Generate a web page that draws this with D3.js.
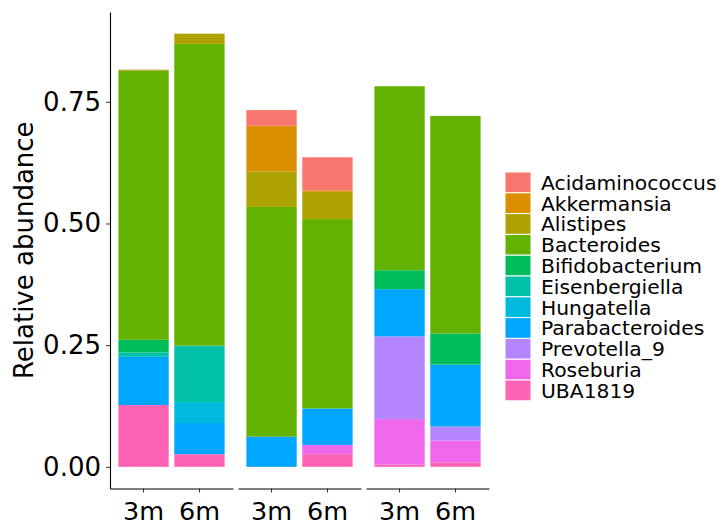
<!DOCTYPE html>
<html>
<head>
<meta charset="utf-8">
<script src="https://cdn.jsdelivr.net/npm/d3@7"></script>
<style>
  body { margin: 0; background: #fff; }
  text { font-family: "DejaVu Sans", sans-serif; }
</style>
</head>
<body>
<div id="chart"></div>
<script>
// panels (no strip labels shown) and time points
const panels = ['P1', 'P2', 'P3'];
const times = ['3m', '6m'];
const genera = ['Acidaminococcus', 'Akkermansia', 'Alistipes', 'Bacteroides', 'Bifidobacterium',
  'Eisenbergiella', 'Hungatella', 'Parabacteroides', 'Prevotella_9', 'Roseburia', 'UBA1819'];
const colors = ['#F8766D', '#DB8E00', '#AEA200', '#64B200', '#00BD5C',
  '#00C1A7', '#00BADE', '#00A6FF', '#B385FF', '#EF67EB', '#FF63B6'];
const yTicks = [0, 0.25, 0.5, 0.75];

// relative abundance per bar: P1-3m, P1-6m, P2-3m, P2-6m, P3-3m, P3-6m
const acidaminococcus = [0, 0, 0.032, 0.068, 0, 0];
const akkermansia     = [0, 0, 0.094, 0.003, 0, 0];
const alistipes       = [0.002, 0.021, 0.073, 0.056, 0, 0];
const bacteroides     = [0.553, 0.620, 0.472, 0.389, 0.378, 0.447];
const bifidobacterium = [0.026, 0, 0, 0, 0.039, 0.064];
const eisenbergiella  = [0.009, 0.116, 0, 0, 0, 0];
const hungatella      = [0, 0.043, 0, 0, 0, 0];
const parabacteroides = [0.099, 0.064, 0.062, 0.075, 0.097, 0.127];
const prevotella9     = [0, 0, 0, 0, 0.170, 0.029];
const roseburia       = [0, 0, 0, 0.019, 0.093, 0.045];
const uba1819         = [0.127, 0.026, 0, 0.026, 0.005, 0.009];

const series = [acidaminococcus, akkermansia, alistipes, bacteroides, bifidobacterium,
  eisenbergiella, hungatella, parabacteroides, prevotella9, roseburia, uba1819];

// build one row per bar
const rows = [];
panels.forEach((p, i) => times.forEach((t, j) => {
  const row = { panel: p, time: t };
  genera.forEach((g, k) => { row[g] = series[k][i * times.length + j]; });
  rows.push(row);
}));

const width = 725, height = 531;
const marginLeft = 110, marginRight = 236, marginTop = 12, marginBottom = 42.5;

// ggplot stacks the first level on top, so stack from the last genus up
const stacked = d3.stack().keys(genera.slice().reverse())(rows);

const maxTotal = d3.max(rows, d => d3.sum(genera, g => d[g]));
const pad = maxTotal * 0.05;
const y = d3.scaleLinear([-pad, maxTotal + pad], [height - marginBottom, marginTop]);

const panelX = d3.scaleBand(panels, [marginLeft, width - marginRight]).paddingInner(5 / 128);
const x = d3.scaleBand(times, [0, panelX.bandwidth()]).paddingInner(0.1).paddingOuter(0.15);
const color = d3.scaleOrdinal(genera, colors);

const svg = d3.select('#chart').append('svg')
  .attr('width', width)
  .attr('height', height)
  .attr('viewBox', [0, 0, width, height]);

// bars
svg.append('g')
  .selectAll('g')
  .data(stacked)
  .join('g')
  .attr('fill', d => color(d.key))
  .selectAll('rect')
  .data(d => d.filter(s => s[1] - s[0] > 0))
  .join('rect')
  .attr('x', d => panelX(d.data.panel) + x(d.data.time))
  .attr('width', x.bandwidth())
  .attr('y', d => y(d[1]))
  .attr('height', d => y(d[0]) - y(d[1]));

// y axis
svg.append('g')
  .attr('transform', `translate(${marginLeft},0)`)
  .call(d3.axisLeft(y).tickValues(yTicks).tickFormat(d3.format('.2f')).tickSize(4).tickSizeOuter(0).tickPadding(5))
  .call(g => g.select('.domain').attr('stroke', '#000').attr('stroke-width', 1.1))
  .call(g => g.selectAll('.tick line').attr('stroke', '#333'))
  .call(g => g.selectAll('.tick text').attr('fill', '#000').attr('font-size', 26)
    .attr('font-family', '"DejaVu Sans", sans-serif'));

// x axis, one per panel
panels.forEach(p => {
  svg.append('g')
    .attr('transform', `translate(${panelX(p)},${height - marginBottom})`)
    .call(d3.axisBottom(x).tickSize(4).tickSizeOuter(0).tickPadding(9))
    .call(g => g.select('.domain').attr('stroke', '#000').attr('stroke-width', 1.1))
    .call(g => g.selectAll('.tick line').attr('stroke', '#333'))
    .call(g => g.selectAll('.tick text').attr('fill', '#000').attr('font-size', 25.5)
      .attr('font-family', '"DejaVu Sans", sans-serif'));
});

// y title
svg.append('text')
  .attr('transform', `translate(33,${(marginTop + height - marginBottom) / 2}) rotate(-90)`)
  .attr('text-anchor', 'middle')
  .attr('font-size', 26)
  .attr('fill', '#000')
  .text('Relative abundance');

// legend
const keyH = 20.8, keyW = 26;
const legend = svg.append('g').attr('transform', 'translate(505,172)');
const item = legend.selectAll('g')
  .data(genera)
  .join('g')
  .attr('transform', (d, i) => `translate(0,${i * keyH})`);
item.append('rect')
  .attr('width', keyW)
  .attr('height', keyH)
  .attr('fill', d => color(d))
  .attr('stroke', '#fff')
  .attr('stroke-width', 1);
item.append('text')
  .attr('x', 36)
  .attr('y', keyH / 2)
  .attr('dy', '0.36em')
  .attr('font-size', 20.3)
  .attr('fill', '#000')
  .text(d => d);
</script>
</body>
</html>
